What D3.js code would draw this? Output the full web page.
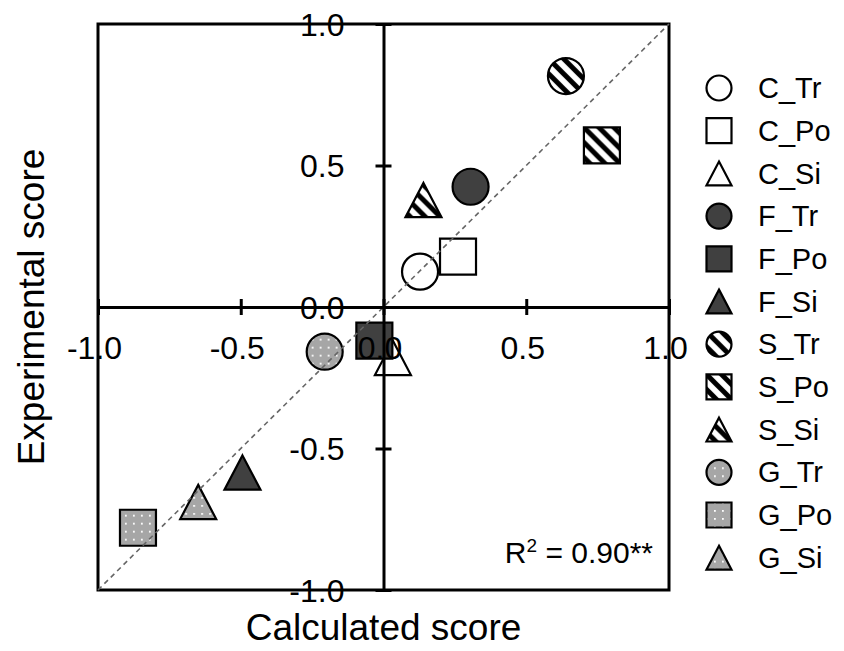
<!DOCTYPE html>
<html>
<head>
<meta charset="utf-8">
<script src="https://cdn.jsdelivr.net/npm/d3@7"></script>
<style>
  html, body { margin: 0; padding: 0; background: #fff; }
  svg { display: block; font-family: Arial, "Liberation Sans", sans-serif; }
</style>
</head>
<body>
<svg id="chart" width="844" height="651"></svg>
<script>
// Series: treatment labels, calculated (x) and experimental (y) scores
const seriesNames = ["C_Tr", "C_Po", "C_Si", "F_Tr", "F_Po", "F_Si",
                     "S_Tr", "S_Po", "S_Si", "G_Tr", "G_Po", "G_Si"];
const calculated   = [0.128, 0.261, 0.033, 0.305, -0.032, -0.494,
                      0.639, 0.765, 0.140, -0.206, -0.860, -0.649];
const experimental = [0.125, 0.178, -0.180, 0.425, -0.119, -0.585,
                      0.816, 0.571, 0.378, -0.158, -0.780, -0.689];
const shapes = ["circle", "square", "triangle", "circle", "square", "triangle",
                "circle", "square", "triangle", "circle", "square", "triangle"];
const fills  = ["open", "open", "open", "solid", "solid", "solid",
                "stripe", "stripe", "stripe", "dots", "dots", "dots"];

const tickValues = [-1, -0.5, 0, 0.5, 1];
const tickLabels = ["-1.0", "-0.5", "0.0", "0.5", "1.0"];
const fitLine = [[-1, -1], [1, 1]];
const r2Label = "0.90**";

const svg = d3.select("#chart");

const x = d3.scaleLinear().domain([-1, 1]).range([98, 669]);
const y = d3.scaleLinear().domain([-1, 1]).range([590, 24]);

// ---- fill patterns ----
const defs = svg.append("defs");
const T = 15;
const stripe = defs.append("pattern")
  .attr("id", "stripe").attr("patternUnits", "userSpaceOnUse")
  .attr("width", T).attr("height", T);
stripe.append("rect").attr("width", T).attr("height", T).attr("fill", "#fff");
stripe.append("path")
  .attr("d", `M-4,-4 L${T + 4},${T + 4} M-4,${T - 4} L4,${T + 4} M${T - 4},-4 L${T + 4},4`)
  .attr("stroke", "#000").attr("stroke-width", 5);

const dots = defs.append("pattern")
  .attr("id", "dots").attr("patternUnits", "userSpaceOnUse")
  .attr("width", 8).attr("height", 8);
dots.append("rect").attr("width", 8).attr("height", 8).attr("fill", "#a6a6a6");
dots.append("rect").attr("x", 3).attr("y", 3).attr("width", 1.8).attr("height", 1.8).attr("fill", "#fff");

const fillOf = f => f === "open" ? "#fff" : f === "solid" ? "#404040"
                  : f === "stripe" ? "url(#stripe)" : "url(#dots)";

// marker outline centred on the origin, sized by its bounding box
function shapePath(shape, s) {
  const h = s / 2;
  if (shape === "circle") {
    return `M${-h},0 A${h},${h} 0 1,0 ${h},0 A${h},${h} 0 1,0 ${-h},0 Z`;
  }
  if (shape === "square") {
    return `M${-h},${-h} H${h} V${h} H${-h} Z`;
  }
  const hh = h * 0.95;
  return `M0,${-hh} L${h},${hh} L${-h},${hh} Z`;
}

// ---- plot frame ----
svg.append("rect")
  .attr("x", x(-1)).attr("y", y(1))
  .attr("width", x(1) - x(-1)).attr("height", y(-1) - y(1))
  .attr("fill", "none").attr("stroke", "#000").attr("stroke-width", 3);

// ---- axes crossing at zero ----
const xAxis = d3.axisBottom(x).tickValues(tickValues)
  .tickFormat((d, i) => tickLabels[i]).tickSize(8).tickSizeOuter(0);
const gx = svg.append("g").attr("transform", `translate(0,${y(0)})`).call(xAxis);
gx.select(".domain").attr("stroke", "#000").attr("stroke-width", 3);
gx.selectAll(".tick line").attr("y1", -8).attr("y2", 8)
  .attr("stroke", "#000").attr("stroke-width", 3);
gx.selectAll(".tick text")
  .attr("y", 41).attr("dy", "0.35em").attr("x", -4)
  .attr("fill", "#000").style("font-size", "32px").style("font-family", "Arial, 'Liberation Sans', sans-serif");

const yAxis = d3.axisLeft(y).tickValues(tickValues)
  .tickFormat((d, i) => tickLabels[i]).tickSize(8).tickSizeOuter(0);
const gy = svg.append("g").attr("transform", `translate(${x(0)},0)`).call(yAxis);
gy.select(".domain").attr("stroke", "#000").attr("stroke-width", 3);
gy.selectAll(".tick line").attr("x1", -8).attr("x2", 8)
  .attr("stroke", "#000").attr("stroke-width", 3);
gy.selectAll(".tick text")
  .attr("x", -39).attr("dy", "0.35em")
  .attr("fill", "#000").style("font-size", "32px").style("font-family", "Arial, 'Liberation Sans', sans-serif");

// ---- data markers ----
const pts = seriesNames.map((n, i) => ({
  name: n, cx: calculated[i], cy: experimental[i], shape: shapes[i], fill: fills[i]
}));

svg.append("g").selectAll("path")
  .data(pts).join("path")
  .attr("transform", d => `translate(${x(d.cx)},${y(d.cy)})`)
  .attr("d", d => shapePath(d.shape, 36))
  .attr("fill", d => fillOf(d.fill))
  .attr("stroke", "#000").attr("stroke-width", 2.2);

// ---- 1:1 reference line ----
svg.append("path")
  .attr("d", d3.line().x(d => x(d[0])).y(d => y(d[1]))(fitLine))
  .attr("fill", "none").attr("stroke", "#666").attr("stroke-width", 1.6)
  .attr("stroke-dasharray", "5,4");

// tick labels sit above the markers
gx.raise(); gy.raise();

// ---- R² annotation ----
const r2 = svg.append("text")
  .attr("x", 653).attr("y", 563).attr("text-anchor", "end")
  .style("font-size", "30px").attr("fill", "#000");
r2.append("tspan").text("R");
r2.append("tspan").text("2").style("font-size", "19px").attr("dy", -11);
r2.append("tspan").text(" = " + r2Label).attr("dy", 11);

// ---- axis titles ----
svg.append("text")
  .attr("x", x(0)).attr("y", 640).attr("text-anchor", "middle")
  .style("font-size", "37px").attr("fill", "#000")
  .text("Calculated score");

svg.append("text")
  .attr("transform", `translate(44,${(y(-1) + y(1)) / 2}) rotate(-90)`)
  .attr("text-anchor", "middle")
  .style("font-size", "37px").attr("fill", "#000")
  .text("Experimental score");

// ---- legend ----
const legend = svg.append("g");
const rows = legend.selectAll("g").data(pts).join("g")
  .attr("transform", (d, i) => `translate(719,${88 + i * 42.7})`);
rows.append("path")
  .attr("d", d => shapePath(d.shape, 25))
  .attr("fill", d => fillOf(d.fill))
  .attr("stroke", "#000").attr("stroke-width", 2.2);
rows.append("text")
  .attr("x", 39).attr("dy", "0.35em")
  .style("font-size", "29px").attr("fill", "#000")
  .text(d => d.name);
</script>
</body>
</html>
